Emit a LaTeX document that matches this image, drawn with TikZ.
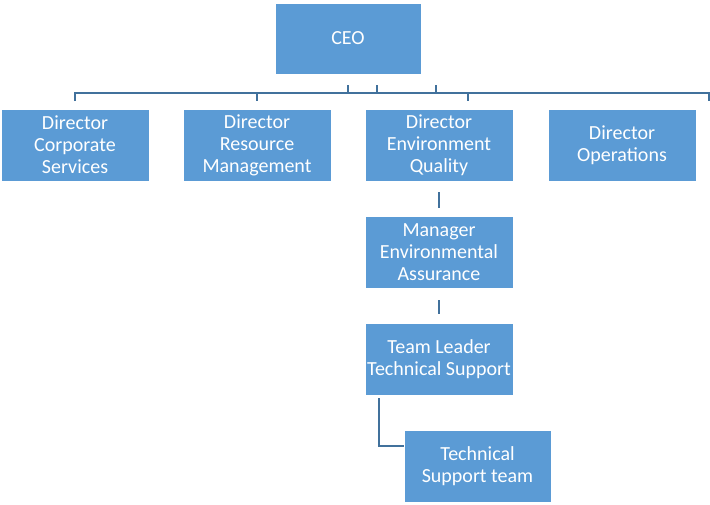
\documentclass[tikz,border=0pt]{standalone}
\usepackage{fontspec}
\setmainfont{Carlito}
\definecolor{boxblue}{HTML}{5B9BD5}
\definecolor{lineblue}{HTML}{41719C}
\begin{document}
\begin{tikzpicture}[x=0.75pt,y=-0.75pt,
  orgbox/.style={rectangle, fill=boxblue, draw=white, line width=0.4pt, text=white,
    minimum width=148*0.75pt, minimum height=72*0.75pt, align=center, inner sep=0pt,
    font=\fontsize{15}{16.5}\selectfont},
  link/.style={draw=lineblue, line width=1.8pt}]
\useasboundingbox (0,0) rectangle (710,504);
\node[orgbox, minimum width=146*0.75pt, minimum height=71*0.75pt] (ceo) at (348,38.5) {CEO};
\node[orgbox] (d1) at (75,145) {Director\\Corporate\\Services};
\node[orgbox] (d2) at (257,145) {Director\\Resource\\Management};
\node[orgbox] (d3) at (439,145) {Director\\Environment\\Quality};
\node[orgbox] (d4) at (622,145) {Director\\Operations};
\node[orgbox] (m1) at (439,252) {Manager\\Environmental\\Assurance};
\node[orgbox] (t1) at (439,359) {Team Leader\\Technical Support};
\node[orgbox, minimum width=147*0.75pt] (ts) at (477.5,466) {Technical\\Support team};
\coordinate (bl) at (75,93);
\coordinate (br) at (709,93);
\draw[link] (bl) ++(0,8) -- (bl) -- (br) -- ++(0,8);
\draw[link] (257,93) -- (257,101);
\draw[link] (468,93) -- (468,101);
\draw[link] (348,85) -- (348,93);
\draw[link] (377,85) -- (377,93);
\draw[link] (436,85) -- (436,93);
\draw[link] ([yshift=-11*0.75pt]d3.south) -- ([yshift=-27*0.75pt]d3.south);
\draw[link] ([yshift=-12*0.75pt]m1.south) -- ([yshift=-26*0.75pt]m1.south);
\coordinate (tsc) at (379,446);
\draw[link] (379,398) -- (tsc) -- (ts.west |- tsc);
\end{tikzpicture}
\end{document}
